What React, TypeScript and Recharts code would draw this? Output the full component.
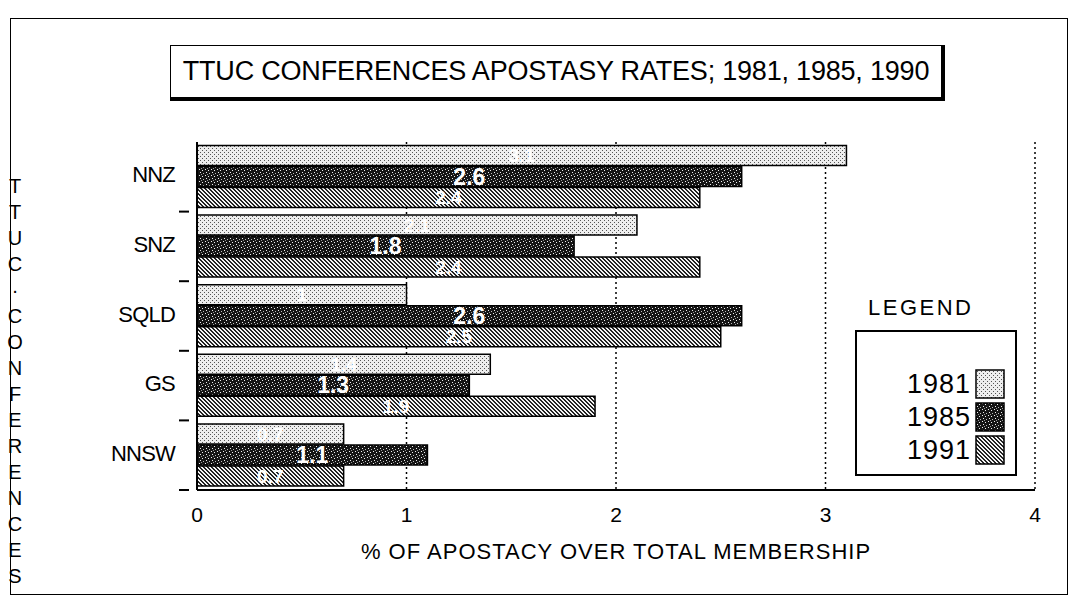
import React from "react"
import { BarChart, Bar, XAxis, YAxis, CartesianGrid, LabelList } from "recharts"

const conferences = ["NNZ", "SNZ", "SQLD", "GS", "NNSW"]
const rates1981 = [3.1, 2.1, 1.0, 1.4, 0.7]
const rates1985 = [2.6, 1.8, 2.6, 1.3, 1.1]
const rates1991 = [2.4, 2.4, 2.5, 1.9, 0.7]
const xTicks = [0, 1, 2, 3, 4]
const years = ["1981", "1985", "1991"]
const sideTitle = "TTUC.CONFERENCES".split("")

const data = conferences.map((name, i) => ({
  name,
  y1981: rates1981[i],
  y1985: rates1985[i],
  y1991: rates1991[i],
}))

const FONT = "'Liberation Sans', Arial, Helvetica, sans-serif"

function Patterns({ prefix }: { prefix: string }) {
  return (
    <defs>
      <pattern id={prefix + "1981"} width="4" height="4" patternUnits="userSpaceOnUse">
        <rect width="4" height="4" fill="#eeeeee" />
        <rect x="0" y="0" width="1" height="1" fill="#555" />
        <rect x="2" y="2" width="1" height="1" fill="#555" />
      </pattern>
      <pattern id={prefix + "1985"} width="6" height="6" patternUnits="userSpaceOnUse">
        <rect width="6" height="6" fill="#151515" />
        <rect x="1" y="1" width="1" height="1" fill="#eee" />
        <rect x="4" y="2" width="1" height="1" fill="#eee" />
        <rect x="2" y="4" width="1" height="1" fill="#eee" />
        <rect x="5" y="5" width="1" height="1" fill="#bbb" />
        <rect x="3" y="0" width="1" height="1" fill="#999" />
      </pattern>
      <pattern id={prefix + "1991"} width="4" height="4" patternUnits="userSpaceOnUse">
        <rect width="4" height="4" fill="#f4f4f4" />
        <rect x="0" y="0" width="2" height="1" fill="#222" />
        <rect x="1" y="1" width="2" height="1" fill="#222" />
        <rect x="2" y="2" width="2" height="1" fill="#222" />
        <rect x="3" y="3" width="1" height="1" fill="#222" />
        <rect x="0" y="3" width="1" height="1" fill="#222" />
      </pattern>
    </defs>
  )
}

function CategoryTick(props: any) {
  const { x, y, payload } = props
  const off = payload.offset || 0
  return (
    <g>
      <text
        x={x - 14}
        y={y - 2}
        textAnchor="end"
        dominantBaseline="central"
        fontSize={22}
        fontFamily={FONT}
        fill="#000"
        letterSpacing={-0.8}
      >
        {payload.value}
      </text>
      <line x1={x - 10} x2={x} y1={y + off} y2={y + off} stroke="#000" strokeWidth={2} />
    </g>
  )
}

export default function App() {
  return (
    <div
      style={{
        position: "absolute",
        left: 0,
        top: 0,
        width: 1073,
        height: 603,
        background: "#fff",
        fontFamily: FONT,
        overflow: "hidden",
      }}
    >
      {/* outer frame */}
      <div
        style={{
          position: "absolute",
          left: 10,
          top: 18,
          width: 1056,
          height: 575,
          border: "1px solid #000",
        }}
      />

      <BarChart
        width={1073}
        height={603}
        data={data}
        layout="vertical"
        margin={{ top: 142, right: 38, bottom: 73, left: 0 }}
        barCategoryGap="5%"
        barGap={1}
        style={{ position: "absolute", left: 0, top: 0 }}
      >
        <Patterns prefix="pat" />
        <CartesianGrid horizontal={false} stroke="#000" strokeDasharray="2 3" strokeWidth={1.5} />
        <XAxis
          type="number"
          domain={[0, 4]}
          ticks={xTicks}
          tickLine={false}
          axisLine={{ stroke: "#000", strokeWidth: 2 }}
          tick={{ fill: "#000", fontSize: 21, fontFamily: FONT }}
          tickMargin={11}
          height={40}
        />
        <YAxis
          type="category"
          dataKey="name"
          width={197}
          tickLine={false}
          axisLine={{ stroke: "#000", strokeWidth: 2 }}
          tick={<CategoryTick />}
        />
        <Bar dataKey="y1981" fill="url(#pat1981)" stroke="#000" strokeWidth={1.5} isAnimationActive={false}>
          <LabelList dataKey="y1981" position="center" fill="#fff" fontSize={19} fontFamily={FONT} fontWeight="bold" />
        </Bar>
        <Bar dataKey="y1985" fill="url(#pat1985)" stroke="#000" strokeWidth={1.5} isAnimationActive={false}>
          <LabelList dataKey="y1985" position="center" fill="#fff" fontSize={23} fontFamily={FONT} fontWeight="bold" />
        </Bar>
        <Bar dataKey="y1991" fill="url(#pat1991)" stroke="#000" strokeWidth={1.5} isAnimationActive={false}>
          <LabelList dataKey="y1991" position="center" fill="#fff" fontSize={19} fontFamily={FONT} fontWeight="bold" />
        </Bar>
      </BarChart>

      {/* title box */}
      <div
        style={{
          position: "absolute",
          left: 170,
          top: 45,
          width: 770,
          height: 51,
          borderTop: "1.5px solid #000",
          borderLeft: "1.5px solid #000",
          borderRight: "4px solid #000",
          borderBottom: "4px solid #000",
          display: "flex",
          alignItems: "center",
          justifyContent: "center",
          fontSize: 27,
          letterSpacing: -0.2,
          color: "#000",
          background: "#fff",
        }}
      >
        TTUC CONFERENCES APOSTASY RATES; 1981, 1985, 1990
      </div>

      {/* side title */}
      {sideTitle.map((ch, i) => (
        <div
          key={i}
          style={{
            position: "absolute",
            left: 6,
            width: 18,
            top: 175 + i * 26,
            textAlign: "center",
            fontSize: 20,
            lineHeight: "22px",
            color: "#000",
          }}
        >
          {ch === "." ? "·" : ch}
        </div>
      ))}

      {/* x axis title */}
      <div
        style={{
          position: "absolute",
          left: 197,
          width: 838,
          top: 539,
          textAlign: "center",
          fontSize: 22,
          letterSpacing: 1,
          color: "#000",
        }}
      >
        % OF APOSTACY OVER TOTAL MEMBERSHIP
      </div>

      {/* legend */}
      <div style={{ position: "absolute", left: 868, top: 295, fontSize: 22, letterSpacing: 2.5, color: "#000" }}>
        LEGEND
      </div>
      <div
        style={{
          position: "absolute",
          left: 855,
          top: 330,
          width: 158,
          height: 142,
          border: "2px solid #000",
          background: "#fff",
        }}
      >
        {years.map((yr, i) => (
          <div
            key={yr}
            style={{
              position: "absolute",
              right: 10,
              top: 37 + i * 33,
              display: "flex",
              alignItems: "center",
              gap: 4,
            }}
          >
            <span style={{ fontSize: 27, lineHeight: "30px", letterSpacing: 1 }}>{yr}</span>
            <svg width={30} height={30}>
              <Patterns prefix={"leg" + i} />
              <rect x={1} y={1} width={28} height={28} fill={`url(#leg${i}${yr})`} stroke="#000" strokeWidth={1.5} />
            </svg>
          </div>
        ))}
      </div>
    </div>
  )
}
